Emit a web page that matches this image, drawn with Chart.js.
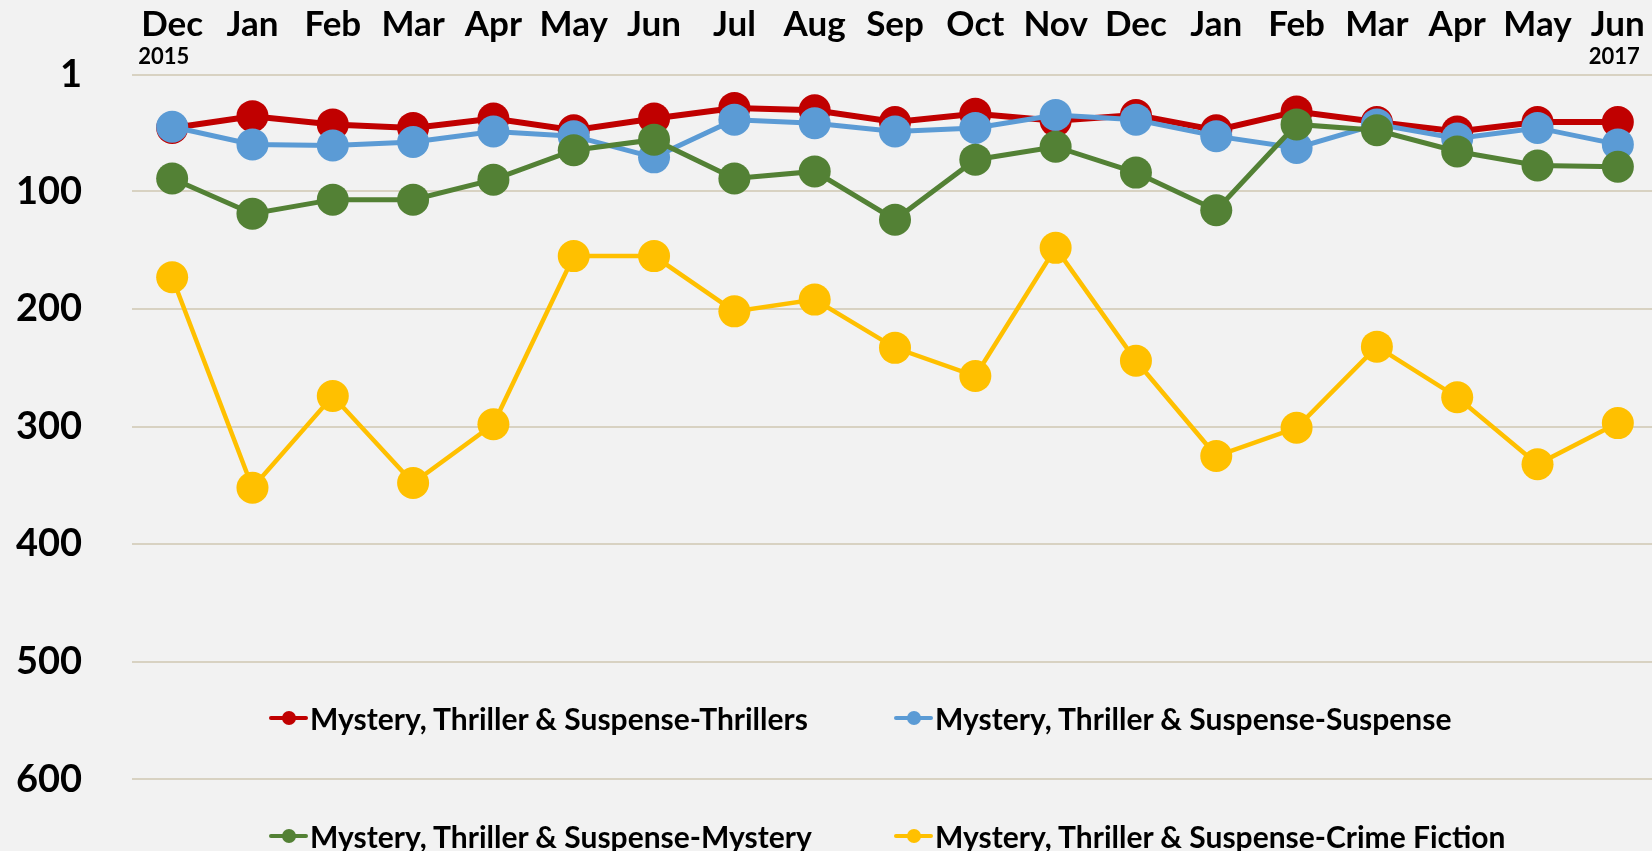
<!DOCTYPE html>
<html>
<head>
<meta charset="utf-8">
<script src="https://cdn.jsdelivr.net/npm/chart.js@4.4.1/dist/chart.umd.min.js"></script>
<style>
  html, body { margin: 0; padding: 0; background: #F2F2F2; overflow: hidden; }
  #wrap { position: relative; width: 1660px; height: 897px; }
  .legend-item {
    position: absolute;
    display: flex;
    align-items: center;
    font-family: Lato, 'Liberation Sans', sans-serif;
    font-weight: 700;
    font-size: 30px;
    color: #000;
    white-space: nowrap;
    transform: translateY(-50%);
  }
  .legend-mark { position: relative; width: 39px; height: 14px; margin-right: 2px; }
  .legend-mark .ln { position: absolute; left: 0; right: 0; top: 5px; height: 4px; border-radius: 2px; }
  .legend-mark .dot { position: absolute; left: 13px; top: 0; width: 14px; height: 14px; border-radius: 50%; }
</style>
</head>
<body>
<div id="wrap">
  <canvas id="chart"></canvas>
</div>
<script>
// categories (Dec 2015 .. Jun 2017)
const months = ['Dec', 'Jan', 'Feb', 'Mar', 'Apr', 'May', 'Jun', 'Jul', 'Aug', 'Sep',
                'Oct', 'Nov', 'Dec', 'Jan', 'Feb', 'Mar', 'Apr', 'May', 'Jun'];
const firstYear = '2015';
const lastYear = '2017';

// sales rank per month (lower = better)
const thrillers    = [46, 36, 43, 46, 38, 48, 38, 29, 31, 41, 34, 40, 35, 48, 32, 41, 49, 41, 41];
const suspense     = [45, 60, 61, 58, 49, 53, 71, 39, 42, 49, 46, 35, 39, 53, 63, 43, 55, 46, 60];
const mystery      = [89, 119, 107, 107, 90, 65, 56, 89, 83, 124, 73, 62, 84, 116, 43, 48, 66, 78, 79];
const crimeFiction = [173, 352, 274, 348, 298, 155, 155, 202, 192, 233, 257, 148, 244, 325, 301, 232, 275, 332, 297];

const seriesNames = [
  'Mystery, Thriller & Suspense-Thrillers',
  'Mystery, Thriller & Suspense-Suspense',
  'Mystery, Thriller & Suspense-Mystery',
  'Mystery, Thriller & Suspense-Crime Fiction'
];
const seriesColors = ['#C00000', '#5B9BD5', '#538135', '#FFC000'];

// y axis ticks
const yTickValues = [1, 100, 200, 300, 400, 500, 600];
const yTickLabels = ['1', '100', '200', '300', '400', '500', '600'];

const FONT = "Lato, 'Liberation Sans', sans-serif";

function makeSet(i, data, width) {
  return {
    label: seriesNames[i],
    data: data,
    borderColor: seriesColors[i],
    backgroundColor: seriesColors[i],
    pointBackgroundColor: seriesColors[i],
    pointBorderColor: seriesColors[i],
    borderWidth: width,
    pointBorderWidth: 0,
    pointRadius: 16,
    pointHoverRadius: 16,
    tension: 0,
    clip: false,
    // later series sit on top, like the original
    order: 4 - i
  };
}

// draws the year under the first and last month label
const yearLabels = {
  id: 'yearLabels',
  afterDraw(chart) {
    const ctx = chart.ctx;
    const xs = chart.scales.x;
    ctx.save();
    ctx.font = '700 22px ' + FONT;
    ctx.fillStyle = '#000';
    ctx.textBaseline = 'alphabetic';
    ctx.textAlign = 'left';
    ctx.fillText(firstYear, xs.getPixelForValue(0) - 34, 64);
    ctx.textAlign = 'right';
    ctx.fillText(lastYear, xs.getPixelForValue(months.length - 1) + 22, 64);
    ctx.restore();
  }
};

new Chart(document.getElementById('chart'), {
  type: 'line',
  data: {
    labels: months,
    datasets: [
      makeSet(0, thrillers, 6),
      makeSet(1, suspense, 5),
      makeSet(2, mystery, 5),
      makeSet(3, crimeFiction, 4.5)
    ]
  },
  options: {
    responsive: true,
    maintainAspectRatio: false,
    animation: false,
    layout: { autoPadding: false, padding: { left: 0, right: 2, top: 0, bottom: 0 } },
    plugins: {
      legend: { display: false },
      tooltip: { enabled: false }
    },
    scales: {
      x: {
        position: 'top',
        offset: true,
        grid: { display: false, drawTicks: false },
        border: { display: false },
        ticks: {
          color: '#000',
          padding: 33,
          maxRotation: 0,
          autoSkip: false,
          font: { family: FONT, size: 35, weight: '700', lineHeight: 1 }
        },
        afterFit(scale) {
          scale.height = 75;
          // label padding must not eat into the plot width
          scale.paddingLeft = 0;
          scale.paddingRight = 0;
        }
      },
      y: {
        reverse: true,
        min: 1,
        max: 700,
        grid: { color: '#D8D2C2', lineWidth: 2, drawTicks: false },
        border: { display: false },
        afterBuildTicks(scale) {
          scale.ticks = yTickValues.map(v => ({ value: v }));
        },
        ticks: {
          color: '#000',
          padding: 50,
          font: { family: FONT, size: 38, weight: '700' },
          callback(value) {
            const i = yTickValues.indexOf(value);
            return i >= 0 ? yTickLabels[i] : '';
          }
        },
        afterFit(scale) {
          scale.width = 132;
          scale.paddingTop = 0;
          scale.paddingBottom = 0;
        }
      }
    }
  },
  plugins: [yearLabels]
});

// legend laid over the plot, two columns and two rows as in the original
const legendSpots = [
  { left: 269, top: 718 },
  { left: 894, top: 718 },
  { left: 269, top: 836 },
  { left: 894, top: 836 }
];
const wrap = document.getElementById('wrap');
seriesNames.forEach((name, i) => {
  const item = document.createElement('div');
  item.className = 'legend-item';
  item.style.left = legendSpots[i].left + 'px';
  item.style.top = legendSpots[i].top + 'px';
  item.innerHTML =
    '<span class="legend-mark"><span class="ln" style="background:' + seriesColors[i] + '"></span>' +
    '<span class="dot" style="background:' + seriesColors[i] + '"></span></span>' +
    '<span></span>';
  item.lastChild.textContent = name;
  wrap.appendChild(item);
});
</script>
</body>
</html>
